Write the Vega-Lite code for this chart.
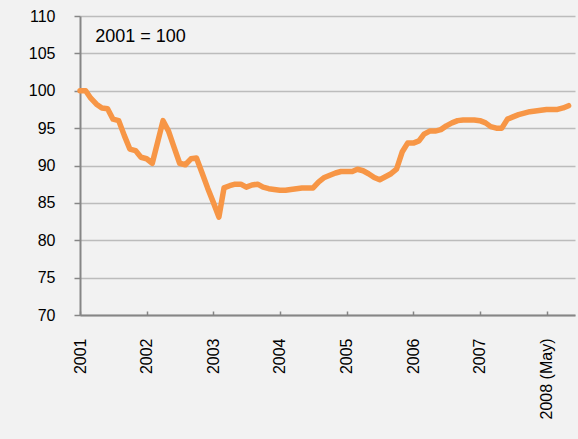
{
  "$schema": "https://vega.github.io/schema/vega-lite/v6.json",
  "autosize": "none",
  "width": 495,
  "height": 299,
  "padding": {"left": 80, "top": 16, "right": 3, "bottom": 124},
  "background": "#f2f2f2",
  "config": {
    "view": {"stroke": null},
    "font": "Liberation Sans"
  },
  "datasets": {
    "series": [
      {"date": "2001-01-01", "v": 100.0},
      {"date": "2001-02-01", "v": 100.0},
      {"date": "2001-03-01", "v": 99.0},
      {"date": "2001-04-01", "v": 98.2},
      {"date": "2001-05-01", "v": 97.7},
      {"date": "2001-06-01", "v": 97.6},
      {"date": "2001-07-01", "v": 96.2},
      {"date": "2001-08-01", "v": 96.0},
      {"date": "2001-09-01", "v": 94.0},
      {"date": "2001-10-01", "v": 92.2},
      {"date": "2001-11-01", "v": 92.0},
      {"date": "2001-12-01", "v": 91.1},
      {"date": "2002-01-01", "v": 90.9},
      {"date": "2002-02-01", "v": 90.3},
      {"date": "2002-03-01", "v": 93.0},
      {"date": "2002-04-01", "v": 96.0},
      {"date": "2002-05-01", "v": 94.6},
      {"date": "2002-06-01", "v": 92.4},
      {"date": "2002-07-01", "v": 90.3},
      {"date": "2002-08-01", "v": 90.1},
      {"date": "2002-09-01", "v": 90.9},
      {"date": "2002-10-01", "v": 91.0},
      {"date": "2002-11-01", "v": 89.0},
      {"date": "2002-12-01", "v": 87.0},
      {"date": "2003-01-01", "v": 85.1},
      {"date": "2003-02-01", "v": 83.1},
      {"date": "2003-03-01", "v": 87.0},
      {"date": "2003-04-01", "v": 87.3},
      {"date": "2003-05-01", "v": 87.5},
      {"date": "2003-06-01", "v": 87.5},
      {"date": "2003-07-01", "v": 87.1},
      {"date": "2003-08-01", "v": 87.4},
      {"date": "2003-09-01", "v": 87.5},
      {"date": "2003-10-01", "v": 87.1},
      {"date": "2003-11-01", "v": 86.9},
      {"date": "2003-12-01", "v": 86.8},
      {"date": "2004-01-01", "v": 86.7},
      {"date": "2004-02-01", "v": 86.7},
      {"date": "2004-03-01", "v": 86.8},
      {"date": "2004-04-01", "v": 86.9},
      {"date": "2004-05-01", "v": 87.0},
      {"date": "2004-06-01", "v": 87.0},
      {"date": "2004-07-01", "v": 87.0},
      {"date": "2004-08-01", "v": 87.8},
      {"date": "2004-09-01", "v": 88.4},
      {"date": "2004-10-01", "v": 88.7},
      {"date": "2004-11-01", "v": 89.0},
      {"date": "2004-12-01", "v": 89.2},
      {"date": "2005-01-01", "v": 89.2},
      {"date": "2005-02-01", "v": 89.2},
      {"date": "2005-03-01", "v": 89.5},
      {"date": "2005-04-01", "v": 89.3},
      {"date": "2005-05-01", "v": 88.9},
      {"date": "2005-06-01", "v": 88.4},
      {"date": "2005-07-01", "v": 88.1},
      {"date": "2005-08-01", "v": 88.5},
      {"date": "2005-09-01", "v": 88.9},
      {"date": "2005-10-01", "v": 89.5},
      {"date": "2005-11-01", "v": 91.8},
      {"date": "2005-12-01", "v": 93.0},
      {"date": "2006-01-01", "v": 93.0},
      {"date": "2006-02-01", "v": 93.3},
      {"date": "2006-03-01", "v": 94.2},
      {"date": "2006-04-01", "v": 94.6},
      {"date": "2006-05-01", "v": 94.6},
      {"date": "2006-06-01", "v": 94.8},
      {"date": "2006-07-01", "v": 95.3},
      {"date": "2006-08-01", "v": 95.7},
      {"date": "2006-09-01", "v": 96.0},
      {"date": "2006-10-01", "v": 96.1},
      {"date": "2006-11-01", "v": 96.1},
      {"date": "2006-12-01", "v": 96.1},
      {"date": "2007-01-01", "v": 96.0},
      {"date": "2007-02-01", "v": 95.7},
      {"date": "2007-03-01", "v": 95.2},
      {"date": "2007-04-01", "v": 95.0},
      {"date": "2007-05-01", "v": 95.0},
      {"date": "2007-06-01", "v": 96.2},
      {"date": "2007-07-01", "v": 96.5},
      {"date": "2007-08-01", "v": 96.8},
      {"date": "2007-09-01", "v": 97.0},
      {"date": "2007-10-01", "v": 97.2},
      {"date": "2007-11-01", "v": 97.3},
      {"date": "2007-12-01", "v": 97.4},
      {"date": "2008-01-01", "v": 97.5},
      {"date": "2008-02-01", "v": 97.5},
      {"date": "2008-03-01", "v": 97.5},
      {"date": "2008-04-01", "v": 97.7},
      {"date": "2008-05-01", "v": 98.0}
    ],
    "note": [
      {"date": "2001-03-25", "v": 106.5, "label": "2001 = 100"}
    ]
  },
  "encoding": {
    "x": {
      "field": "date",
      "type": "temporal",
      "scale": {"type": "utc", "domain": ["2001-01-01", "2008-06-05"]},
      "axis": {
        "title": null,
        "values": ["2001-01-01", "2002-01-01", "2003-01-01", "2004-01-01", "2005-01-01", "2006-01-01", "2007-01-01", "2008-01-01"],
        "format": "%Y",
        "formatType": "utc",
        "labelExpr": "utcyear(datum.value) == 2008 ? '2008 (May)' : datum.label",
        "labelAngle": -90,
        "labelAlign": "right",
        "labelBaseline": "middle",
        "labelPadding": 27,
        "labelFont": "Liberation Sans",
        "labelFontSize": 16,
        "labelColor": "#000000",
        "tickSize": -4,
        "tickColor": "#868686",
        "tickWidth": 1.5,
        "domainColor": "#868686",
        "domainWidth": 2,
        "grid": false,
        "labelOverlap": false,
        "labelFlush": false,
        "labelBound": false
      }
    },
    "y": {
      "field": "v",
      "type": "quantitative",
      "scale": {"domain": [70, 110], "nice": false, "zero": false},
      "axis": {
        "title": null,
        "values": [70, 75, 80, 85, 90, 95, 100, 105, 110],
        "labelPadding": 19,
        "labelFont": "Liberation Sans",
        "labelFontSize": 16,
        "labelColor": "#000000",
        "tickSize": 6,
        "tickColor": "#868686",
        "tickWidth": 1.5,
        "domainColor": "#868686",
        "domainWidth": 2,
        "gridColor": "#bcbcbc",
        "gridWidth": 1.5,
        "gridOpacity": 1,
        "labelFlush": false,
        "labelOverlap": false
      }
    }
  },
  "layer": [
    {
      "data": {"name": "series"},
      "mark": {"type": "line", "color": "#f79646", "strokeWidth": 5.5, "strokeCap": "round", "strokeJoin": "round"}
    },
    {
      "data": {"name": "note"},
      "mark": {"type": "text", "align": "left", "baseline": "alphabetic", "fontSize": 18, "font": "Liberation Sans", "color": "#000000"},
      "encoding": {
        "text": {"field": "label"}
      }
    }
  ]
}
